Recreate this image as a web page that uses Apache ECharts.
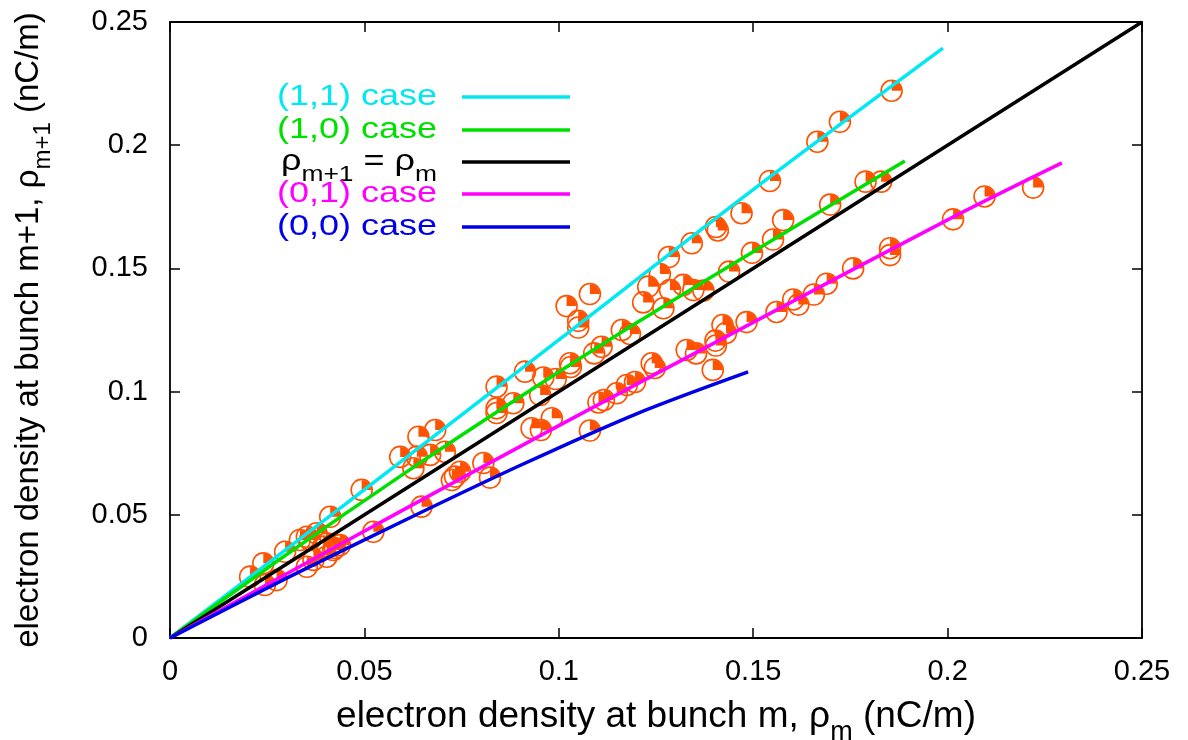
<!DOCTYPE html>
<html><head><meta charset="utf-8">
<script src="https://cdn.jsdelivr.net/npm/echarts@6/dist/echarts.min.js"></script>
<style>html,body{margin:0;padding:0;background:#fff}#c{width:1188px;height:740px}</style>
</head><body><div id="c"></div>
<script>
// ---- data ----
const xTickLabels = ['0', '0.05', '0.1', '0.15', '0.2', '0.25'];
const yTickLabels = ['0', '0.05', '0.1', '0.15', '0.2', '0.25'];

const case11X = [0, 0.05, 0.10, 0.15, 0.1988];
const case11Y = [0, 0.0602, 0.1210, 0.1820, 0.2394];
const case10X = [0, 0.03, 0.06, 0.09, 0.12, 0.15, 0.189];
const case10Y = [0, 0.0339, 0.0665, 0.0978, 0.1279, 0.1568, 0.1936];
const diagX = [0, 0.25];
const diagY = [0, 0.25];
const case01X = [0, 0.03, 0.06, 0.10, 0.15, 0.20, 0.2294];
const case01Y = [0, 0.0261, 0.0520, 0.0862, 0.1281, 0.1697, 0.1928];
const case00X = [0, 0.03, 0.06, 0.09, 0.12, 0.1487];
const case00Y = [0, 0.0243, 0.0475, 0.0700, 0.0910, 0.1080];

const markerX = [
  0.1856,0.1723,0.1665,0.1543,0.1470,0.1404,0.1409,0.1342,0.1283,0.1260,0.1230,0.1217,0.1080,0.1020,0.1050,0.1050,0.0840,0.0913,0.0682,0.0639,0.0493,0.0412,0.0592,
  0.1829,0.1789,0.1698,0.1577,0.1551,0.1497,0.1438,0.1372,0.1320,0.1286,0.1346,0.1269,0.1162,0.1183,0.1110,0.1091,0.1029,0.1031,0.0960,0.0992,0.0952,0.0883,0.0840,0.0840,0.0707,0.0669,0.0635,0.0626,
  0.2220,0.2095,0.2014,0.1852,0.1852,0.1757,0.1689,0.1656,0.1616,0.1603,0.1560,0.1483,0.1421,0.1430,0.1403,0.1404,0.1329,0.1353,0.1396,0.1239,0.1247,0.1196,0.1175,0.1149,0.1116,0.1102,0.0982,0.0930,0.0954,0.1080,0.0806,0.0746,0.0733,0.0725,0.0823,0.0647,0.0523,
  0.0352,0.0334,0.0377,0.0403,0.0420,0.0296,0.0240,0.0369,0.0352,0.0403,0.0206,0.0274,0.0244,0.0360,0.0394,0.0424,0.0437
];
const markerY = [
  0.2221,0.2095,0.2014,0.1855,0.1724,0.1668,0.1654,0.1602,0.1546,0.1477,0.1426,0.1362,0.1396,0.1347,0.1287,0.1260,0.1020,0.1081,0.0844,0.0817,0.0601,0.0492,0.0735,
  0.1852,0.1852,0.1759,0.1696,0.1617,0.1563,0.1487,0.1410,0.1433,0.1412,0.1412,0.1338,0.1250,0.1234,0.1182,0.1155,0.1115,0.1100,0.1057,0.1051,0.0986,0.0953,0.0932,0.0913,0.0756,0.0743,0.0736,0.0689,
  0.1828,0.1792,0.1699,0.1582,0.1554,0.1500,0.1438,0.1394,0.1353,0.1374,0.1323,0.1282,0.1270,0.1238,0.1207,0.1187,0.1169,0.1155,0.1088,0.1115,0.1096,0.1039,0.1027,0.0993,0.0966,0.0956,0.0892,0.0851,0.0844,0.0842,0.0710,0.0675,0.0655,0.0641,0.0651,0.0533,0.0431,
  0.0411,0.0398,0.0425,0.0384,0.0357,0.0350,0.0303,0.0317,0.0289,0.0330,0.0249,0.0235,0.0215,0.0398,0.0371,0.0365,0.0377
];

const legendNames = ['(1,1) case', '(1,0) case', '{r|ρ}{s|m+1}{r| = ρ}{s|m}', '(0,1) case', '(0,0) case'];
const colors = ['#00e8f0', '#00e000', '#000000', '#ff00ff', '#0000e8'];

// ---- chart ----
const FONT = 'Liberation Sans, Arial, Helvetica, sans-serif';
const pairs = (xs, ys) => xs.map((x, i) => [x, ys[i]]);
const chart = echarts.init(document.getElementById('c'), null, {renderer: 'canvas'});

const markerColor = '#ff5200';
const axisCommon = {
  type: 'value', min: 0, max: 0.25, interval: 0.05,
  axisLine: {show: true, onZero: false, lineStyle: {color: '#000', width: 1.8}},
  axisTick: {show: true, inside: true, length: 10, lineStyle: {color: '#000', width: 1.5}},
  splitLine: {show: false}
};
function rich(size) {
  return {
    r: {fontSize: size, fontFamily: FONT, color: '#000'},
    s: {fontSize: Math.round(size * 0.72), fontFamily: FONT, color: '#000', verticalAlign: 'bottom', padding: [0, 0, -Math.round(size * 0.3), 0]}
  };
}

const lineSeries = [
  [case11X, case11Y], [case10X, case10Y], [diagX, diagY], [case01X, case01Y], [case00X, case00Y]
].map((d, i) => ({
  type: 'line', data: pairs(d[0], d[1]), showSymbol: false, symbol: 'none', smooth: 0.3,
  lineStyle: {color: colors[i], width: 3.5}, z: 5, silent: true, animation: false
}));

const legendGraphics = [];
const rowY = [97, 130, 162, 194, 227];
legendNames.forEach((n, i) => {
  const isRich = n.indexOf('{') >= 0;
  legendGraphics.push({
    type: 'text', x: 437, y: rowY[i], scaleX: 1.2,
    style: {
      text: n, fill: colors[i], font: '30px ' + FONT, align: 'right', verticalAlign: 'middle',
      rich: isRich ? rich(30) : undefined
    }
  });
  legendGraphics.push({
    type: 'line', shape: {x1: 462, y1: rowY[i], x2: 570, y2: rowY[i]},
    style: {stroke: colors[i], lineWidth: 3.5}
  });
});

chart.setOption({
  animation: false,
  backgroundColor: '#fff',
  grid: {left: 170, right: 46, top: 22, bottom: 102, show: false, containLabel: false, outerBoundsMode: 'none'},
  xAxis: [
    Object.assign({}, axisCommon, {
      position: 'bottom',
      axisLabel: {fontSize: 29, fontFamily: FONT, color: '#000', margin: 19,
        formatter: (v) => xTickLabels[Math.round(v / 0.05)]},
      name: 'electron density at bunch m, {r|ρ}{s|m} (nC/m)',
      nameLocation: 'middle', nameGap: 60,
      nameTextStyle: {fontSize: 37, fontFamily: FONT, color: '#000', rich: rich(37)}
    }),
    Object.assign({}, axisCommon, {position: 'top', axisLabel: {show: false}})
  ],
  yAxis: [
    Object.assign({}, axisCommon, {
      position: 'left',
      axisLabel: {fontSize: 29, fontFamily: FONT, color: '#000', margin: 22,
        formatter: (v) => yTickLabels[Math.round(v / 0.05)]},
      name: 'electron density at bunch m+1, {r|ρ}{s|m+1} (nC/m)',
      nameLocation: 'middle', nameGap: 125,
      nameTextStyle: {fontSize: 33, fontFamily: FONT, color: '#000', rich: rich(33)}
    }),
    Object.assign({}, axisCommon, {position: 'right', axisLabel: {show: false}})
  ],
  series: [{
    type: 'custom', z: 2, silent: true,
    data: pairs(markerX, markerY),
    renderItem: function (params, api) {
      const p = api.coord([api.value(0), api.value(1)]);
      const r = 10.5;
      return {type: 'group', children: [
        {type: 'sector', shape: {cx: p[0], cy: p[1], r0: 0, r: r - 0.5, startAngle: -Math.PI / 2, endAngle: 0, clockwise: true},
          style: {fill: markerColor}},
        {type: 'circle', shape: {cx: p[0], cy: p[1], r: r},
          style: {fill: 'none', stroke: markerColor, lineWidth: 1.6}}
      ]};
    }
  }].concat(lineSeries),
  graphic: legendGraphics
});
</script></body></html>
